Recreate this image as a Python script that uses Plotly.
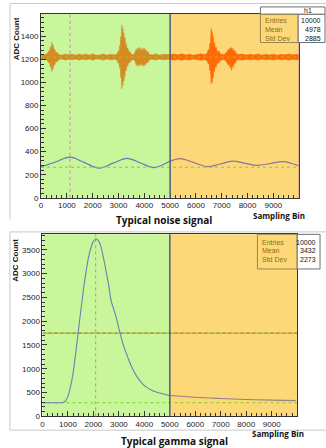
import plotly.graph_objects as go

W, H = 326, 448

# ---------------- data: top panel (noise envelope) ----------------
noise_left_x = [0, 150, 250, 300, 330, 360, 390, 420, 445, 470, 500, 530, 570, 620, 680, 800, 950, 1050, 1200, 1350,
                1450, 1600, 1750, 1900, 2000, 2100, 2250, 2400, 2550, 2700, 2850, 2960, 2990, 3020, 3050, 3070, 3090,
                3110, 3130, 3150, 3170, 3190, 3210, 3230, 3250, 3270, 3300, 3330, 3360, 3400, 3440, 3500, 3600, 3660,
                3690, 3720, 3750, 3780, 3810, 3840, 3870, 3900, 3940, 3970, 4000, 4030, 4060, 4100, 4140, 4180, 4300,
                4450, 4600, 4750, 4900, 5000]
noise_left_hi = [1236, 1240, 1250, 1275, 1260, 1310, 1290, 1348, 1300, 1325, 1275, 1290, 1255, 1262, 1242, 1236, 1246,
                 1238, 1244, 1236, 1246, 1238, 1244, 1236, 1248, 1238, 1236, 1246, 1236, 1244, 1238, 1250, 1275, 1260,
                 1320, 1290, 1400, 1350, 1497, 1420, 1470, 1380, 1430, 1340, 1390, 1310, 1340, 1280, 1300, 1260, 1270,
                 1245, 1240, 1265, 1290, 1270, 1300, 1280, 1304, 1275, 1295, 1265, 1300, 1280, 1298, 1270, 1285, 1258,
                 1270, 1245, 1238, 1246, 1236, 1244, 1238, 1240]
noise_left_lo = [1204, 1200, 1192, 1170, 1180, 1130, 1150, 1095, 1140, 1115, 1165, 1150, 1185, 1178, 1198, 1204, 1194,
                 1202, 1196, 1204, 1194, 1202, 1196, 1204, 1192, 1202, 1204, 1194, 1204, 1196, 1202, 1190, 1165, 1180,
                 1120, 1150, 1040, 1090, 946, 1020, 975, 1060, 1010, 1100, 1050, 1130, 1100, 1160, 1140, 1180, 1170,
                 1195, 1200, 1175, 1150, 1170, 1140, 1160, 1147, 1165, 1150, 1175, 1140, 1160, 1145, 1170, 1155, 1182,
                 1170, 1195, 1202, 1194, 1204, 1196, 1202, 1200]

noise_right_x = [5000, 5150, 5300, 5450, 5600, 5750, 5900, 6050, 6200, 6350, 6440, 6480, 6510, 6540, 6560, 6590, 6610,
                 6630, 6650, 6670, 6690, 6720, 6750, 6780, 6820, 6870, 6950, 7050, 7150, 7220, 7260, 7290, 7320, 7350,
                 7380, 7410, 7440, 7480, 7520, 7560, 7650, 7800, 7950, 8100, 8250, 8400, 8550, 8700, 8850, 9000, 9150,
                 9300, 9450, 9600, 9750, 9900, 10000]
noise_right_hi = [1240, 1246, 1238, 1248, 1238, 1245, 1236, 1244, 1248, 1240, 1255, 1285, 1270, 1340, 1310, 1468, 1400,
                  1440, 1360, 1400, 1320, 1350, 1290, 1310, 1265, 1275, 1248, 1240, 1250, 1270, 1290, 1275, 1300, 1285,
                  1304, 1275, 1295, 1265, 1275, 1250, 1242, 1246, 1238, 1244, 1238, 1246, 1236, 1244, 1238, 1245, 1236,
                  1244, 1238, 1246, 1238, 1244, 1238]
noise_right_lo = [1200, 1194, 1202, 1192, 1202, 1195, 1204, 1196, 1192, 1200, 1185, 1160, 1170, 1100, 1130, 989, 1040,
                  1000, 1080, 1040, 1120, 1090, 1150, 1130, 1175, 1165, 1192, 1200, 1190, 1170, 1150, 1165, 1130, 1150,
                  1104, 1150, 1130, 1170, 1165, 1190, 1198, 1194, 1202, 1196, 1202, 1194, 1204, 1196, 1202, 1195, 1204,
                  1196, 1202, 1194, 1202, 1196, 1202]

wave_x = [0, 560, 1120, 1685, 2250, 2790, 3330, 3855, 4380, 5000, 5400, 5925, 6450, 6935, 7420, 7900, 8380, 8890, 9400,
          9960]
wave_y = [268, 310, 352, 305, 257, 300, 342, 302, 262, 318, 340, 305, 270, 293, 317, 299, 281, 297, 314, 279]

noise_level = 1220
noise_base = 265
noise_marker = 1120
noise_stats = ["10000", "4978", "2885"]

# ---------------- data: bottom panel (gamma) ----------------
gamma_x = [0, 400, 700, 800, 900, 1000, 1100, 1200, 1300, 1400, 1500, 1600, 1700, 1800, 1900, 2000, 2090, 2200, 2300,
           2400, 2500, 2600, 2700, 2800, 2900, 3000, 3100, 3200, 3350, 3500, 3700, 4000, 4300, 4600, 5000, 6000, 7000,
           8000, 9000, 9950]
gamma_y = [285, 285, 285, 290, 320, 420, 620, 900, 1300, 1750, 2200, 2620, 3000, 3320, 3540, 3680, 3735, 3690, 3560,
           3320, 3050, 2760, 2420, 2250, 2070, 1850, 1640, 1460, 1240, 1040, 840, 645, 545, 490, 437, 400, 375, 355,
           340, 330]
gamma_half = 1750
gamma_base = 285
gamma_marker = 2090
gamma_stats = ["10000", "3432", "2273"]

stat_labels = ["Entries", "Mean", "Std Dev"]
x_ticks = [0, 1000, 2000, 3000, 4000, 5000, 6000, 7000, 8000, 9000]
y_ticks_top = [0, 200, 400, 600, 800, 1000, 1200, 1400]
y_ticks_bot = [0, 500, 1000, 1500, 2000, 2500, 3000, 3500]
split = 5000

GREEN_BG = "#c9f59b"
ORANGE_BG = "#fdd879"

def px(x):
    return x / W

def py(y):
    return 1 - y / H

fig = go.Figure()

# noise band
fig.add_trace(go.Scatter(x=noise_left_x + noise_left_x[::-1], y=noise_left_hi + noise_left_lo[::-1],
                         fill="toself", fillcolor="#d68a22", line=dict(color="#d68a22", width=0.6),
                         mode="lines", xaxis="x", yaxis="y", hoverinfo="skip"))
fig.add_trace(go.Scatter(x=noise_right_x + noise_right_x[::-1], y=noise_right_hi + noise_right_lo[::-1],
                         fill="toself", fillcolor="#ff6a06", line=dict(color="#ff6a06", width=0.6),
                         mode="lines", xaxis="x", yaxis="y", hoverinfo="skip"))
# wave
wl = [(a, b) for a, b in zip(wave_x, wave_y) if a <= split]
wr = [(a, b) for a, b in zip(wave_x, wave_y) if a >= split]
fig.add_trace(go.Scatter(x=[a for a, _ in wl], y=[b for _, b in wl], mode="lines",
                         line=dict(color="#5a7cc0", width=1.2, shape="spline"), xaxis="x", yaxis="y"))
fig.add_trace(go.Scatter(x=[a for a, _ in wr], y=[b for _, b in wr], mode="lines",
                         line=dict(color="#8f7298", width=1.2, shape="spline"), xaxis="x", yaxis="y"))
# dashed reference lines top
for yy in [noise_level, noise_base]:
    fig.add_trace(go.Scatter(x=[0, 10000], y=[yy, yy], mode="lines",
                             line=dict(color="#78d81e", width=1, dash="dot"), xaxis="x", yaxis="y"))

# gamma
gl = [(a, b) for a, b in zip(gamma_x, gamma_y) if a <= split]
gr = [(a, b) for a, b in zip(gamma_x, gamma_y) if a >= split]
fig.add_trace(go.Scatter(x=[0, 10000], y=[gamma_half, gamma_half], mode="lines",
                         line=dict(color="#8cc83c", width=1.2), xaxis="x2", yaxis="y2"))
fig.add_trace(go.Scatter(x=[0, 10000], y=[gamma_half, gamma_half], mode="lines",
                         line=dict(color="#e8704a", width=1.2, dash="dot"), xaxis="x2", yaxis="y2"))
fig.add_trace(go.Scatter(x=[0, 10000], y=[gamma_base, gamma_base], mode="lines",
                         line=dict(color="#78d81e", width=1, dash="dot"), xaxis="x2", yaxis="y2"))
fig.add_trace(go.Scatter(x=[a for a, _ in gl], y=[b for _, b in gl], mode="lines",
                         line=dict(color="#6a80b4", width=1.1, shape="spline"), xaxis="x2", yaxis="y2"))
fig.add_trace(go.Scatter(x=[a for a, _ in gr], y=[b for _, b in gr], mode="lines",
                         line=dict(color="#9c7c88", width=1.1, shape="spline"), xaxis="x2", yaxis="y2"))

shapes = []
for xr, yr in [("x", "y"), ("x2", "y2")]:
    shapes.append(dict(type="rect", xref=xr, yref=yr + " domain", x0=0, x1=split, y0=0, y1=1,
                       fillcolor=GREEN_BG, line_width=0, layer="below"))
    shapes.append(dict(type="rect", xref=xr, yref=yr + " domain", x0=split, x1=10000, y0=0, y1=1,
                       fillcolor=ORANGE_BG, line_width=0, layer="below"))
    shapes.append(dict(type="line", xref=xr, yref=yr + " domain", x0=split, x1=split, y0=0, y1=1,
                       line=dict(color="#56657a", width=1.6), layer="above"))
# vertical pink markers
shapes.append(dict(type="line", xref="x", yref="y domain", x0=noise_marker, x1=noise_marker, y0=0, y1=1,
                   line=dict(color="#e47aa6", width=1, dash="dot")))
shapes.append(dict(type="line", xref="x2", yref="y2 domain", x0=gamma_marker, x1=gamma_marker, y0=0, y1=1,
                   line=dict(color="#e47aa6", width=1, dash="dot")))
# right edge tint in top panel
shapes.append(dict(type="line", xref="x", yref="y domain", x0=10000, x1=10000, y0=0, y1=1,
                   line=dict(color="#d27ea0", width=1.2)))

# outer canvas frames
FR = "#c8c8c8"
shapes += [
    dict(type="line", xref="paper", yref="paper", x0=px(8), x1=1.0, y0=py(3.5), y1=py(3.5), line=dict(color=FR, width=1)),
    dict(type="line", xref="paper", yref="paper", x0=px(8), x1=px(8), y0=py(3.5), y1=py(222), line=dict(color=FR, width=1)),
    dict(type="line", xref="paper", yref="paper", x0=px(8), x1=1.0, y0=py(234.5), y1=py(234.5), line=dict(color=FR, width=1)),
    dict(type="line", xref="paper", yref="paper", x0=px(8), x1=px(8), y0=py(234.5), y1=py(435), line=dict(color=FR, width=1)),
    dict(type="line", xref="paper", yref="paper", x0=px(8), x1=1.0, y0=py(435), y1=py(435), line=dict(color=FR, width=1)),
]

BOX = "#6e6e6e"
annotations = []

def stats_box(x0, x1, xd, y_top, y_head, y_bot, rows_y, values, header):
    if header:
        shapes.append(dict(type="rect", xref="paper", yref="paper", x0=px(x0), x1=px(x1), y0=py(y_head), y1=py(y_top),
                           line=dict(color=BOX, width=1), fillcolor="rgba(255,255,255,0.9)"))
        annotations.append(dict(xref="paper", yref="paper", x=px((xd + x1) / 2 - 4), y=py((y_top + y_head) / 2),
                                text="h1", showarrow=False, font=dict(size=7, color="#222",
                                family="Liberation Sans"), xanchor="center", yanchor="middle"))
    shapes.append(dict(type="rect", xref="paper", yref="paper", x0=px(x0), x1=px(xd), y0=py(y_bot), y1=py(y_head),
                       line=dict(color="#9a8850", width=1), fillcolor="rgba(0,0,0,0)"))
    shapes.append(dict(type="rect", xref="paper", yref="paper", x0=px(xd), x1=px(x1), y0=py(y_bot), y1=py(y_head),
                       line=dict(color=BOX, width=1), fillcolor="white"))
    for lab, val, yy in zip(stat_labels, values, rows_y):
        annotations.append(dict(xref="paper", yref="paper", x=px(x0 + 3), y=py(yy), text=lab, showarrow=False,
                                xanchor="left", yanchor="middle",
                                font=dict(size=7, color="#8a6e22", family="Liberation Sans")))
        annotations.append(dict(xref="paper", yref="paper", x=px(x1 - 2), y=py(yy), text=val, showarrow=False,
                                xanchor="right", yanchor="middle",
                                font=dict(size=7, color="#111", family="Liberation Sans")))

stats_box(260, 325, 298, 7, 14.5, 43, [21, 30, 39], noise_stats, True)
stats_box(257, 320, 297, None, 237, 272, [245, 253.5, 262], gamma_stats, False)

AX = dict(family="Liberation Sans", size=8, color="#222")
TT = dict(family="Liberation Sans", size=8, color="#111")
annotations += [
    dict(xref="paper", yref="paper", x=px(14), y=py(15), text="<b>ADC Count</b>", textangle=-90, showarrow=False,
         xanchor="center", yanchor="top", font=TT),
    dict(xref="paper", yref="paper", x=px(14), y=py(239), text="<b>ADC Count</b>", textangle=-90, showarrow=False,
         xanchor="center", yanchor="top", font=TT),
    dict(xref="paper", yref="paper", x=px(307), y=py(217.5), text="<b>Sampling Bin</b>", showarrow=False,
         xanchor="right", yanchor="middle", font=dict(family="Open Sans", size=8, color="#111")),
    dict(xref="paper", yref="paper", x=px(306), y=py(438.5), text="<b>Sampling Bin</b>", showarrow=False,
         xanchor="right", yanchor="middle", font=dict(family="Open Sans", size=8, color="#111")),
    dict(xref="paper", yref="paper", x=px(163), y=py(222), text="<b>Typical noise signal</b>", showarrow=False,
         xanchor="center", yanchor="middle", font=dict(family="Open Sans", size=10, color="#111")),
    dict(xref="paper", yref="paper", x=px(174), y=py(446), text="<b>Typical gamma signal</b>", showarrow=False,
         xanchor="center", yanchor="middle", font=dict(family="Open Sans", size=10, color="#111")),
]

def xax(domain, anchor):
    return dict(domain=domain, anchor=anchor, range=[0, 10000], tickvals=x_ticks, ticks="inside", ticklen=5,
                tickcolor="#333", showline=True, linecolor="#333", linewidth=1, mirror=True, showgrid=False,
                zeroline=False, tickfont=AX, minor=dict(dtick=200, ticks="inside", ticklen=3, tickcolor="#333"))

def yax(domain, anchor, rng, tv, mdt):
    return dict(domain=domain, anchor=anchor, range=rng, tickvals=tv, ticks="inside", ticklen=5, tickcolor="#333",
                showline=True, linecolor="#333", linewidth=1, mirror=True, showgrid=False, zeroline=False,
                tickfont=AX, minor=dict(dtick=mdt, ticks="inside", ticklen=3, tickcolor="#333"))

fig.update_layout(
    width=W, height=H, margin=dict(l=0, r=0, t=0, b=0), paper_bgcolor="white", plot_bgcolor="rgba(0,0,0,0)",
    showlegend=False,
    xaxis=xax([px(39.3), px(299)], "y"),
    yaxis=yax([py(200), py(14)], "x", [0, 1595], y_ticks_top, 40),
    xaxis2=xax([px(40.7), px(297)], "y2"),
    yaxis2=yax([py(421), py(237)], "x2", [0, 3827], y_ticks_bot, 100),
    shapes=shapes, annotations=annotations,
)

fig.write_html("out.html", config={"displayModeBar": False},
               post_script="document.body.style.margin='0';document.body.style.overflow='hidden';")
